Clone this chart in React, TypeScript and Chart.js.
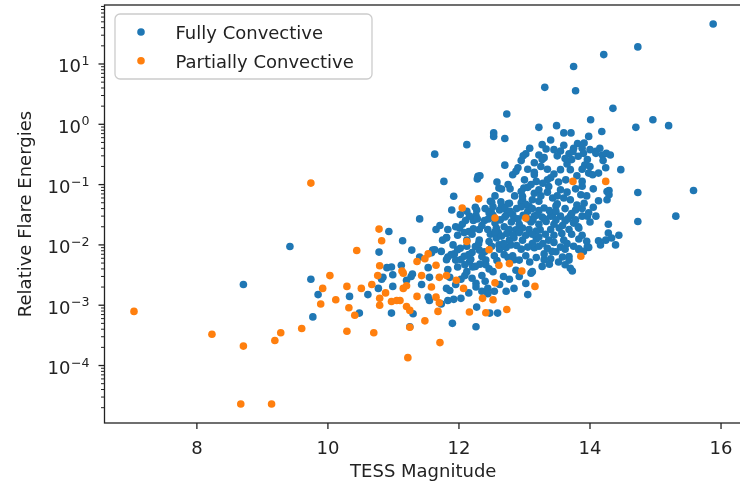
import { useEffect, useRef } from "react";
import { Chart, registerables } from "chart.js";

Chart.register(...registerables);

// [TESS magnitude, relative flare energy]
const fullyConvective: [number, number][] = [
  [15.88, 46], [14.73, 19.2], [14.21, 14.3], [13.75, 9.1], [13.31, 4.1], [13.78, 3.6],
  [14.35, 1.84], [12.73, 1.48], [14.01, 1.19], [14.96, 1.19], [15.2, 0.95], [14.7, 0.89],
  [13.22, 0.89], [13.49, 0.95], [13.6, 0.72], [13.71, 0.72], [14.18, 0.76], [12.53, 0.72],
  [12.53, 0.63], [12.7, 0.58], [12.12, 0.46], [11.63, 0.32], [13.27, 0.46], [13.33, 0.39],
  [13.08, 0.4], [13.02, 0.325], [12.98, 0.3], [13.22, 0.31], [13.27, 0.26], [13.3, 0.28],
  [13.68, 0.325], [13.81, 0.48], [13.91, 0.49], [13.98, 0.63], [13.88, 0.4], [13.75, 0.4],
  [13.74, 0.355], [13.82, 0.295], [13.96, 0.26], [14.09, 0.33], [14.19, 0.31], [14.25, 0.33],
  [14.31, 0.31], [14.09, 0.355], [14.24, 0.19], [14.47, 0.177], [13.98, 0.155], [14.04, 0.146],
  [14.13, 0.155], [13.88, 0.113], [13.55, 0.177], [13.7, 0.177], [13.4, 0.13], [13.35, 0.12],
  [13.63, 0.12], [13.15, 0.146], [13.18, 0.113], [12.9, 0.19], [12.82, 0.146], [12.87, 0.166],
  [12.29, 0.137], [12.32, 0.14], [12.28, 0.124], [11.77, 0.113], [13.88, 0.094], [12.99, 0.088],
  [14.73, 0.074], [15.58, 0.08], [15.31, 0.03], [14.73, 0.0245], [11.92, 0.064], [11.89, 0.038],
  [11.4, 0.027], [11.65, 0.018], [11.71, 0.021], [11.81, 0.0133], [12.48, 0.053], [12.61, 0.088],
  [12.65, 0.0845], [12.77, 0.049], [12.46, 0.034], [12.97, 0.064], [13.12, 0.056], [13.22, 0.082],
  [13.37, 0.093], [13.55, 0.082], [14.26, 0.077], [14.26, 0.056], [14.09, 0.03], [14.13, 0.054],
  [13.96, 0.03], [13.82, 0.02], [14.24, 0.012], [14.44, 0.0145], [14.29, 0.08], [14.29, 0.068],
  [14.28, 0.0158], [14.33, 0.013], [12.95, 0.077], [12.25, 0.042], [12.27, 0.038], [12.5, 0.051],
  [12.49, 0.036], [12.65, 0.044], [12.75, 0.048], [12.1, 0.0254], [12.22, 0.0254], [12.15, 0.0167],
  [12.31, 0.018], [12.39, 0.0254], [12.6, 0.016], [12.69, 0.02], [12.84, 0.028], [12.87, 0.0178],
  [11.98, 0.0145], [13.43, 0.06], [12.97, 0.056], [13.15, 0.072], [13.07, 0.044], [13.22, 0.053],
  [13.3, 0.041], [13.48, 0.044], [13.7, 0.056], [13.86, 0.068], [13.91, 0.049], [13.98, 0.034],
  [13.78, 0.038], [13.15, 0.03], [13.33, 0.0245], [13.43, 0.032], [13.55, 0.03], [13.5, 0.065],
  [13.62, 0.025], [13.88, 0.03], [14.0, 0.024], [14.28, 0.022], [13.24, 0.0178], [13.53, 0.019],
  [13.83, 0.019], [14.13, 0.0117], [14.39, 0.01], [13.96, 0.0094], [13.83, 0.0083], [13.68, 0.0064],
  [13.7, 0.0041], [13.73, 0.0037], [13.27, 0.0044], [13.3, 0.0057], [13.1, 0.0034], [13.02, 0.0023],
  [13.05, 0.0015], [10.97, 0.00074], [11.25, 0.00044], [11.9, 0.0005], [12.26, 0.00044],
  [12.27, 0.00093], [12.47, 0.00074], [12.59, 0.00074], [11.73, 0.00105], [11.92, 0.00125],
  [11.83, 0.0012], [12.03, 0.0013], [11.55, 0.0012], [12.26, 0.0023], [12.26, 0.002], [12.44, 0.0019],
  [12.44, 0.00155], [12.54, 0.0017], [12.84, 0.0019], [12.77, 0.0027], [10.97, 0.0043], [11.12, 0.0046],
  [10.84, 0.0029], [10.99, 0.00205], [11.28, 0.0082], [11.6, 0.0082], [11.4, 0.0063], [11.55, 0.0029],
  [11.53, 0.00136], [11.27, 0.003], [11.3, 0.00072], [11.83, 0.0063], [11.93, 0.0071], [11.98, 0.0043],
  [11.86, 0.0029], [11.86, 0.00175], [12.03, 0.0027], [12.16, 0.0052], [12.21, 0.0043], [12.39, 0.0077],
  [12.41, 0.0056], [12.46, 0.004], [12.54, 0.0066], [12.72, 0.0091], [12.82, 0.0066], [12.87, 0.0038],
  [13.02, 0.0066], [13.12, 0.0036], [13.3, 0.0071], [13.48, 0.0077], [13.68, 0.0056], [13.83, 0.0086],
  [13.98, 0.0091], [14.16, 0.01], [13.4, 0.0059], [13.58, 0.0063], [12.31, 0.0082], [12.09, 0.0031],
  [11.81, 0.0019], [11.83, 0.0039], [11.53, 0.0042], [11.43, 0.0022], [11.58, 0.0074], [11.73, 0.0078],
  [11.81, 0.0057], [11.88, 0.0069], [11.91, 0.01], [11.98, 0.0083], [12.03, 0.0057], [12.09, 0.0047],
  [12.15, 0.0069], [12.25, 0.0094], [12.35, 0.0064], [12.25, 0.0044], [11.81, 0.0131], [11.63, 0.0083],
  [12.46, 0.0114], [12.61, 0.01], [12.69, 0.0069], [12.79, 0.01], [12.84, 0.0131], [12.84, 0.0057],
  [12.41, 0.0047], [12.52, 0.0036], [8.71, 0.0022], [9.42, 0.0094], [9.74, 0.0027], [9.85, 0.0015],
  [9.77, 0.00064], [10.33, 0.0014], [10.48, 0.00074], [10.61, 0.0015], [10.93, 0.0167], [11.14, 0.0117],
  [10.78, 0.0076], [10.9, 0.0042], [10.99, 0.0032], [11.29, 0.0033], [10.77, 0.0019], [10.82, 0.0027],
  [11.2, 0.0026], [12.64, 0.052], [12.95, 0.05], [13.5, 0.048], [13.6, 0.06], [13.02, 0.047],
  [12.16, 0.03], [12.26, 0.031], [12.72, 0.031], [12.82, 0.032], [13.18, 0.031], [13.27, 0.029],
  [13.4, 0.03], [13.7, 0.03], [11.83, 0.018], [12.01, 0.019], [12.22, 0.0185], [12.44, 0.018],
  [12.57, 0.019], [12.77, 0.018], [12.97, 0.019], [13.07, 0.018], [13.18, 0.017], [13.4, 0.018],
  [13.68, 0.018], [11.75, 0.012], [12.12, 0.012], [12.31, 0.012], [12.57, 0.013], [12.77, 0.012],
  [12.97, 0.012], [13.18, 0.0125], [13.37, 0.012], [13.6, 0.012], [13.83, 0.0125], [12.95, 0.0085],
  [13.15, 0.009], [13.35, 0.0088], [13.55, 0.0092], [13.12, 0.0105], [13.45, 0.011], [13.65, 0.0105],
  [13.95, 0.0115], [12.05, 0.022], [12.35, 0.021], [12.55, 0.023], [12.92, 0.022], [13.1, 0.024],
  [13.45, 0.022], [13.75, 0.023], [12.4, 0.04], [12.62, 0.038], [12.88, 0.04], [13.05, 0.036],
  [13.38, 0.037], [13.62, 0.04], [13.8, 0.046], [14.05, 0.042], [12.58, 0.11], [12.75, 0.1],
  [13.0, 0.12], [13.1, 0.1], [13.28, 0.105], [13.45, 0.15], [13.52, 0.11], [13.8, 0.14],
  [13.92, 0.21], [13.65, 0.22], [13.25, 0.2], [13.05, 0.18], [12.7, 0.21], [13.4, 0.55],
  [13.55, 0.36], [13.15, 0.23], [14.0, 0.38], [14.15, 0.4], [13.62, 0.27],
  [12.45, 0.027], [12.52, 0.031], [12.63, 0.026], [12.7, 0.029], [12.8, 0.024], [12.9, 0.027],
  [12.98, 0.031], [13.05, 0.027], [13.13, 0.026], [13.22, 0.022], [13.3, 0.027], [13.48, 0.026],
  [13.58, 0.021], [13.66, 0.027], [13.78, 0.026], [12.48, 0.015], [12.55, 0.0165], [12.65, 0.014],
  [12.73, 0.0155], [12.83, 0.0145], [12.92, 0.016], [13.02, 0.0145], [13.12, 0.015], [13.22, 0.0135],
  [13.32, 0.015], [13.45, 0.0145], [13.57, 0.0155], [13.72, 0.015], [13.88, 0.0145], [12.5, 0.0095],
  [12.62, 0.0085], [12.68, 0.0105], [12.88, 0.0098], [13.05, 0.0092], [13.22, 0.0095], [13.28, 0.0105],
  [13.42, 0.0078], [13.62, 0.0085], [13.75, 0.0095], [13.9, 0.0078], [12.58, 0.0055], [12.75, 0.0062],
  [12.92, 0.0056], [13.08, 0.0052], [13.18, 0.0062], [13.38, 0.0048], [13.52, 0.0052], [13.62, 0.0047],
  [12.52, 0.043], [12.7, 0.04], [12.78, 0.036], [12.95, 0.043], [13.12, 0.04], [13.22, 0.037],
  [13.48, 0.036], [13.72, 0.033], [13.88, 0.04], [12.02, 0.0088], [12.12, 0.0095], [12.2, 0.0075],
  [12.3, 0.0105], [12.08, 0.0065], [12.18, 0.0058], [12.32, 0.0048], [11.95, 0.0056], [12.12, 0.0036],
  [12.2, 0.0028], [12.35, 0.0031], [12.4, 0.0025], [11.95, 0.0022], [12.15, 0.0016], [12.35, 0.0017],
  [12.62, 0.0022], [12.68, 0.003], [12.92, 0.003], [12.72, 0.0017], [12.02, 0.032], [12.12, 0.036],
  [12.2, 0.015], [12.08, 0.016], [11.95, 0.02], [12.28, 0.027], [13.25, 0.065], [13.35, 0.075],
  [13.65, 0.075], [13.78, 0.085], [13.95, 0.065], [14.05, 0.085], [13.05, 0.09], [12.85, 0.065],
  [12.78, 0.085], [12.55, 0.065], [13.5, 0.3], [13.6, 0.45], [13.45, 0.38], [13.9, 0.33],
  [14.0, 0.2], [13.72, 0.26], [13.88, 0.18], [14.2, 0.25], [13.35, 0.18], [13.15, 0.16], [12.95, 0.25],
];

const partiallyConvective: [number, number][] = [
  [7.04, 0.00079], [8.23, 0.00033], [8.71, 0.00021], [8.67, 0.000023], [9.14, 0.000023],
  [9.19, 0.00026], [9.28, 0.00035], [9.6, 0.00041], [9.74, 0.106], [9.89, 0.00105], [9.92, 0.0019],
  [10.03, 0.0031], [10.12, 0.00123], [10.29, 0.00205], [10.32, 0.00091], [10.29, 0.00037],
  [10.41, 0.00068], [10.44, 0.0081], [10.51, 0.0019], [10.67, 0.0022], [10.7, 0.00035],
  [10.76, 0.0031], [10.78, 0.0183], [10.82, 0.0117], [10.79, 0.0045], [10.79, 0.0013],
  [10.79, 0.001], [10.88, 0.0016], [10.97, 0.00115], [11.05, 0.0012], [11.1, 0.0012],
  [11.13, 0.0037], [11.15, 0.0034], [11.15, 0.0019], [11.2, 0.0021], [11.2, 0.00095],
  [11.25, 0.00082], [11.25, 0.00043], [11.22, 0.000135], [11.36, 0.0053], [11.36, 0.0014],
  [11.43, 0.0031], [11.48, 0.0059], [11.53, 0.0071], [11.48, 0.00055], [11.58, 0.002],
  [11.65, 0.0046], [11.65, 0.00136], [11.68, 0.00079], [11.7, 0.0029], [11.7, 0.0011],
  [11.71, 0.00024], [11.81, 0.0031], [11.96, 0.0026], [12.07, 0.0019], [12.05, 0.041],
  [12.12, 0.0114], [12.16, 0.00077], [12.3, 0.058], [12.36, 0.0013], [12.41, 0.00075],
  [12.46, 0.0083], [12.52, 0.00123], [12.55, 0.00235], [12.55, 0.028], [12.61, 0.0046],
  [12.73, 0.00085], [12.77, 0.0049], [12.96, 0.0037], [13.02, 0.028], [13.16, 0.00205],
  [13.74, 0.113], [13.86, 0.0065], [14.24, 0.113],
];

const seriesNames = ["Fully Convective", "Partially Convective"];
const seriesColors = ["#1f77b4", "#ff7f0e"];
const xTickValues = [8, 10, 12, 14, 16];
const yTickExponents = [-4, -3, -2, -1, 0, 1];
const xLimits = [6.59, 16.32];
const yLimits = [1.114e-5, 95.1];
const xTitle = "TESS Magnitude";
const yTitle = "Relative Flare Energies";

const FONT = "18px 'DejaVu Sans'";
const SMALL_FONT = "12.6px 'DejaVu Sans'";
const INK = "#222";
const DOT_RADIUS = 3.8;

// Spines, ticks, tick labels, axis titles and the legend box.
const axesDecor = {
  id: "axesDecor",
  afterDraw(chart: any) {
    const ctx: CanvasRenderingContext2D = chart.ctx;
    const { left, right, top, bottom } = chart.chartArea;
    const xs = chart.scales.x;
    const ys = chart.scales.y;
    ctx.save();

    ctx.strokeStyle = INK;
    ctx.fillStyle = INK;

    // x ticks
    ctx.lineWidth = 1.3;
    ctx.font = FONT;
    ctx.textAlign = "center";
    ctx.textBaseline = "alphabetic";
    for (const v of xTickValues) {
      const px = xs.getPixelForValue(v);
      ctx.beginPath();
      ctx.moveTo(px, bottom);
      ctx.lineTo(px, bottom + 6);
      ctx.stroke();
      ctx.fillText(String(v), px, 453.5);
    }

    // y major ticks and mathtext-like labels
    for (const e of yTickExponents) {
      const py = ys.getPixelForValue(Math.pow(10, e));
      ctx.lineWidth = 1.3;
      ctx.beginPath();
      ctx.moveTo(left - 6, py);
      ctx.lineTo(left, py);
      ctx.stroke();
      const exp = e < 0 ? "\u2212" + String(-e) : String(e);
      ctx.font = SMALL_FONT;
      const expW = ctx.measureText(exp).width;
      ctx.font = FONT;
      const baseW = ctx.measureText("10").width;
      const xRight = left - 15;
      const baseline = py + 8.5;
      ctx.textAlign = "left";
      ctx.fillText("10", xRight - expW - baseW - 0.5, baseline);
      ctx.font = SMALL_FONT;
      ctx.fillText(exp, xRight - expW, baseline - 7.5);
    }

    // y minor ticks
    ctx.lineWidth = 1;
    for (let e = -6; e <= 2; e++) {
      for (let m = 2; m <= 9; m++) {
        const v = m * Math.pow(10, e);
        if (v < yLimits[0] || v > yLimits[1]) continue;
        const py = ys.getPixelForValue(v);
        ctx.beginPath();
        ctx.moveTo(left - 3.5, py);
        ctx.lineTo(left, py);
        ctx.stroke();
      }
    }

    // spines
    ctx.lineWidth = 1.3;
    ctx.strokeRect(left, top, right - left, bottom - top);

    // axis titles
    ctx.font = FONT;
    ctx.textAlign = "center";
    ctx.textBaseline = "alphabetic";
    ctx.fillText(xTitle, (left + right) / 2, 477);
    ctx.save();
    ctx.translate(30.5, (top + bottom) / 2);
    ctx.rotate(-Math.PI / 2);
    ctx.fillText(yTitle, 0, 0);
    ctx.restore();

    // legend
    const bx = 115, by = 14, bw = 257, bh = 65, r = 5;
    ctx.beginPath();
    ctx.moveTo(bx + r, by);
    ctx.arcTo(bx + bw, by, bx + bw, by + bh, r);
    ctx.arcTo(bx + bw, by + bh, bx, by + bh, r);
    ctx.arcTo(bx, by + bh, bx, by, r);
    ctx.arcTo(bx, by, bx + bw, by, r);
    ctx.closePath();
    ctx.fillStyle = "rgba(255,255,255,0.8)";
    ctx.fill();
    ctx.strokeStyle = "#cccccc";
    ctx.lineWidth = 1.3;
    ctx.stroke();

    const rows = [39, 67.8];
    seriesNames.forEach((name, i) => {
      ctx.fillStyle = seriesColors[i];
      ctx.beginPath();
      ctx.arc(141, rows[i] - 7, DOT_RADIUS, 0, Math.PI * 2);
      ctx.fill();
      ctx.fillStyle = INK;
      ctx.font = FONT;
      ctx.textAlign = "left";
      ctx.fillText(name, 175.5, rows[i]);
    });

    ctx.restore();
  },
};

export default function App() {
  const canvasRef = useRef<HTMLCanvasElement>(null);

  useEffect(() => {
    if (!canvasRef.current) return;
    const chart = new Chart(canvasRef.current, {
      type: "scatter",
      data: {
        datasets: [
          {
            label: seriesNames[0],
            data: fullyConvective.map(([x, y]) => ({ x, y })),
            backgroundColor: seriesColors[0],
            borderWidth: 0,
            pointRadius: DOT_RADIUS,
            order: 1,
          },
          {
            label: seriesNames[1],
            data: partiallyConvective.map(([x, y]) => ({ x, y })),
            backgroundColor: seriesColors[1],
            borderWidth: 0,
            pointRadius: DOT_RADIUS,
            order: 0,
          },
        ],
      },
      options: {
        animation: false,
        responsive: false,
        devicePixelRatio: 1,
        events: [],
        layout: { padding: { top: 5, left: 0, right: 3, bottom: 0 } },
        plugins: { legend: { display: false }, tooltip: { enabled: false } },
        scales: {
          x: {
            type: "linear",
            min: xLimits[0],
            max: xLimits[1],
            grid: { display: false },
            border: { display: false },
            ticks: { display: false },
            afterBuildTicks: (s: any) => {
              s.ticks = xTickValues.map((v) => ({ value: v }));
            },
            afterFit: (s: any) => {
              s.height = 65;
            },
          },
          y: {
            type: "logarithmic",
            min: yLimits[0],
            max: yLimits[1],
            grid: { display: false },
            border: { display: false },
            ticks: { display: false },
            afterBuildTicks: (s: any) => {
              s.ticks = yTickExponents.map((e) => ({ value: Math.pow(10, e) }));
            },
            afterFit: (s: any) => {
              s.width = 104.5;
            },
          },
        },
      },
      plugins: [axesDecor],
    });
    return () => chart.destroy();
  }, []);

  return (
    <div
      style={{
        position: "absolute",
        left: 0,
        top: 0,
        width: 740,
        height: 488,
        overflow: "hidden",
        background: "#fff",
      }}
    >
      <canvas ref={canvasRef} width={746} height={488} style={{ display: "block" }} />
    </div>
  );
}
